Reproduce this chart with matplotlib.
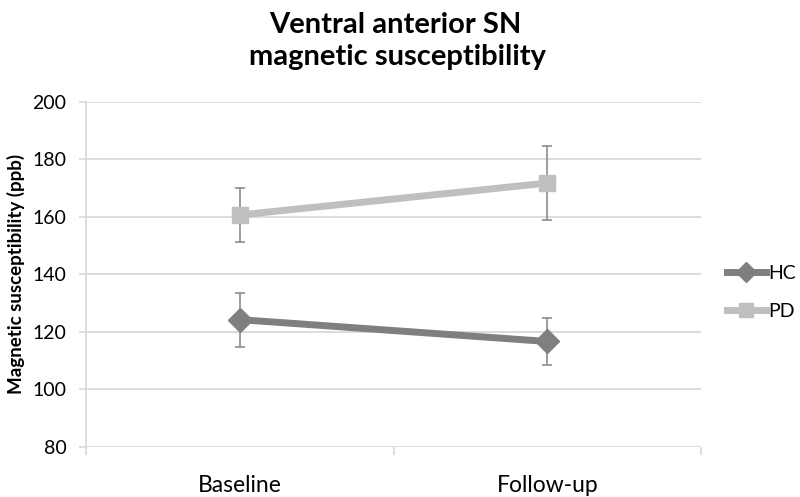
import matplotlib
matplotlib.use("Agg")
import matplotlib.pyplot as plt
from matplotlib.lines import Line2D
import numpy as np

categories = ["Baseline", "Follow-up"]
hc_values = [124.3, 116.7]
hc_err = [9.4, 8.2]
pd_values = [160.7, 171.8]
pd_err = [9.5, 12.8]
yticks = [80, 100, 120, 140, 160, 180, 200]

plt.rcParams['font.family'] = ['Lato', 'DejaVu Sans']

HC_COL = "#7f7f7f"
PD_COL = "#bfbfbf"
ERR_COL = "#8c8c8c"
GRID_COL = "#d9d9d9"

fig = plt.figure(figsize=(8, 4.97), dpi=100)
ax = fig.add_axes([0.1075, 0.1006, 0.76875, 0.6942])

x = np.arange(len(categories)) + 0.5
ax.errorbar(x, hc_values, yerr=hc_err, color=HC_COL, lw=5, marker="D",
            markersize=12, ecolor=ERR_COL, elinewidth=1.2, capsize=3.3,
            capthick=1.2, zorder=3)
ax.errorbar(x, pd_values, yerr=pd_err, color=PD_COL, lw=5, marker="s",
            markersize=12, ecolor=ERR_COL, elinewidth=1.2, capsize=3.3,
            capthick=1.2, zorder=3)

ax.set_xlim(0, 2)
ax.set_ylim(80, 200)
ax.set_yticks(yticks)
ax.set_xticks(x)
ax.set_xticklabels(categories, fontsize=16.5)
ax.set_xticks([0, 1, 2], minor=True)
ax.tick_params(axis='x', which='major', length=0, pad=20)
ax.tick_params(axis='x', which='minor', length=6, color=GRID_COL, width=1.2)
ax.tick_params(axis='y', length=5, color=GRID_COL, width=1.2, labelsize=14, pad=9)
ax.yaxis.grid(True, color=GRID_COL, lw=1.3)
ax.set_axisbelow(True)
for s in ["top", "right", "bottom"]:
    ax.spines[s].set_visible(False)
ax.spines["left"].set_color(GRID_COL)
ax.spines["left"].set_linewidth(1.3)

fig.text(16 / 800, 0.5 * (1 - 145 / 497) + 0.5 * (1 - 403 / 497),
         "Magnetic susceptibility (ppb)", rotation=90, ha="center", va="center",
         fontsize=13.5, fontweight="bold")

fig.text(0.494, 1 - 33 / 497, "Ventral anterior SN", ha="center", va="baseline",
         fontsize=21, fontweight="bold")
fig.text(0.497, 1 - 65 / 497, "magnetic susceptibility", ha="center", va="baseline",
         fontsize=21, fontweight="bold")

handles = [Line2D([], [], color=HC_COL, lw=5, marker="D", markersize=10),
           Line2D([], [], color=PD_COL, lw=5, marker="s", markersize=10)]
ax.legend(handles, ["HC", "PD"], loc="center left", bbox_to_anchor=(1.042, 0.448),
          frameon=False, fontsize=14, handlelength=2.0, handletextpad=0.15,
          labelspacing=1.1, borderpad=0, borderaxespad=0)

fig.savefig("out.png", dpi=100)
